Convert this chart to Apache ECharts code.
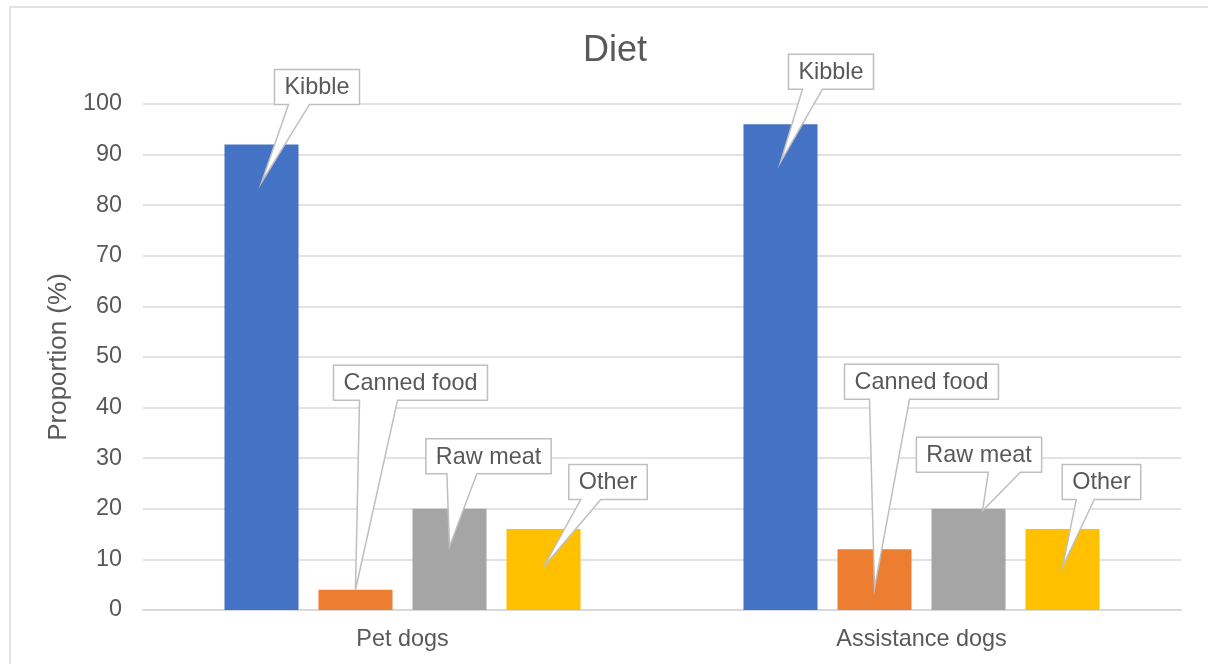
<!DOCTYPE html>
<html>
<head>
<meta charset="utf-8">
<title>Diet</title>
<script src="https://cdn.jsdelivr.net/npm/echarts@6/dist/echarts.min.js"></script>
<style>
  html, body { margin: 0; padding: 0; background: #fff; }
  #chart { width: 1208px; height: 664px; }
</style>
</head>
<body>
<div id="chart"></div>
<script>
// Diet of pet dogs vs assistance dogs (% of owners reporting each food type)
const categories = ['Pet dogs', 'Assistance dogs'];
const seriesNames = ['Kibble', 'Canned food', 'Raw meat', 'Other'];
const kibble = [92, 96];
const cannedFood = [4, 12];
const rawMeat = [20, 20];
const other = [16, 16];
const yMin = 0, yMax = 100, yStep = 10;

const seriesValues = [kibble, cannedFood, rawMeat, other];
const colors = ['#4472C4', '#ED7D31', '#A5A5A5', '#FFC000'];

// Bar spacing shared by the bars and the callouts
const BAR_GAP = 0.27;
const CAT_GAP = 0.314;

// Callout placement in pixels, relative to each bar's centre and top:
// box centre (dx, dy), pointer tip (tipDx, tipDy), pointer base (b0, b1) from box left
const calloutLayout = [
  [ { dx: 55.5, dy: -57.5, tipDx: 0, tipDy: 38, b0: 14, b1: 35 },
    { dx: 50.5, dy: -52.5, tipDx: 0, tipDy: 38, b0: 14, b1: 34 } ],
  [ { dx: 55,   dy: -207,  tipDx: 0, tipDy: 0,  b0: 26, b1: 64 },
    { dx: 47,   dy: -167.5,tipDx: 0, tipDy: 39, b0: 25, b1: 65 } ],
  [ { dx: 39,   dy: -52.5, tipDx: 0, tipDy: 38, b0: 21, b1: 51 },
    { dx: 10.5, dy: -54,   tipDx: 14, tipDy: 2, b0: 72, b1: 104 } ],
  [ { dx: 64.5, dy: -47,   tipDx: 0, tipDy: 38, b0: 12, b1: 32 },
    { dx: 39,   dy: -47,   tipDx: 0, tipDy: 38, b0: 14, b1: 32 } ]
];

const FONT = '"Liberation Sans", Arial, sans-serif';
const TEXT_COLOR = '#595959';
const LABEL_SIZE = 23.4;
const BOX_PAD = 10;
const BOX_H = 35;

const measureCtx = document.createElement('canvas').getContext('2d');
measureCtx.font = LABEL_SIZE + 'px ' + FONT;
function textWidth(t) { return measureCtx.measureText(t).width; }

const calloutData = [];
seriesValues.forEach((vals, s) => {
  vals.forEach((v, c) => calloutData.push([c, v, s]));
});

function renderCallout(params, api) {
  const cat = api.value(0);
  const val = api.value(1);
  const s = api.value(2);
  const top = api.coord([cat, val]);
  const band = api.size([1, 0])[0];
  const n = seriesNames.length;
  const groupW = band * (1 - CAT_GAP);
  const barW = groupW / (n + (n - 1) * BAR_GAP);
  const barCx = top[0] - groupW / 2 + s * barW * (1 + BAR_GAP) + barW / 2;
  const L = calloutLayout[s][cat];
  const name = seriesNames[s];
  const w = textWidth(name) + 2 * BOX_PAD;
  const cx = barCx + L.dx, cy = top[1] + L.dy;
  const x0 = cx - w / 2, x1 = cx + w / 2;
  const y0 = cy - BOX_H / 2, y1 = cy + BOX_H / 2;
  const tip = [barCx + L.tipDx, top[1] + L.tipDy];
  return {
    type: 'group',
    children: [
      {
        type: 'polygon',
        shape: {
          points: [[x0, y0], [x1, y0], [x1, y1], [x0 + L.b1, y1], tip, [x0 + L.b0, y1], [x0, y1]]
        },
        style: { fill: '#ffffff', stroke: '#BFBFBF', lineWidth: 1.5 }
      },
      {
        type: 'text',
        x: cx, y: cy + 1,
        style: {
          text: name,
          fill: TEXT_COLOR,
          font: LABEL_SIZE + 'px ' + FONT,
          align: 'center',
          verticalAlign: 'middle'
        }
      }
    ]
  };
}

const chart = echarts.init(document.getElementById('chart'), null, { renderer: 'canvas' });

const barSeries = seriesNames.map((name, s) => ({
  name: name,
  type: 'bar',
  data: seriesValues[s],
  barGap: (BAR_GAP * 100) + '%',
  barCategoryGap: (CAT_GAP * 100) + '%',
  itemStyle: { color: colors[s] },
  emphasis: { disabled: true },
  z: 2
}));

chart.setOption({
  animation: false,
  backgroundColor: '#ffffff',
  textStyle: { fontFamily: FONT },
  title: {
    text: 'Diet',
    left: 610,
    top: 28,
    textAlign: 'center',
    textStyle: { fontFamily: FONT, fontSize: 36, fontWeight: 'normal', color: TEXT_COLOR }
  },
  graphic: [{
    type: 'rect',
    shape: { x: 10, y: 7, width: 1260, height: 720 },
    style: { fill: 'none', stroke: '#D9D9D9', lineWidth: 1.5 },
    silent: true,
    z: -1
  }],
  grid: { left: 143, right: 27, top: 104, bottom: 54, containLabel: false },
  xAxis: {
    type: 'category',
    data: categories,
    axisTick: { show: false },
    axisLine: { lineStyle: { color: '#D9D9D9', width: 2 } },
    axisLabel: { color: TEXT_COLOR, fontSize: LABEL_SIZE, fontFamily: FONT, margin: 18 }
  },
  yAxis: {
    type: 'value',
    min: yMin,
    max: yMax,
    interval: yStep,
    name: 'Proportion (%)',
    nameLocation: 'middle',
    nameGap: 68,
    nameTextStyle: { color: TEXT_COLOR, fontSize: 26, fontFamily: FONT },
    axisLine: { show: false },
    axisTick: { show: false },
    axisLabel: { color: TEXT_COLOR, fontSize: LABEL_SIZE, fontFamily: FONT, margin: 21 },
    splitLine: { lineStyle: { color: '#D9D9D9', width: 1.5 } }
  },
  series: barSeries.concat([{
    type: 'custom',
    name: 'callouts',
    data: calloutData,
    encode: { x: 0, y: 1 },
    renderItem: renderCallout,
    clip: false,
    silent: true,
    z: 5
  }])
});
</script>
</body>
</html>
